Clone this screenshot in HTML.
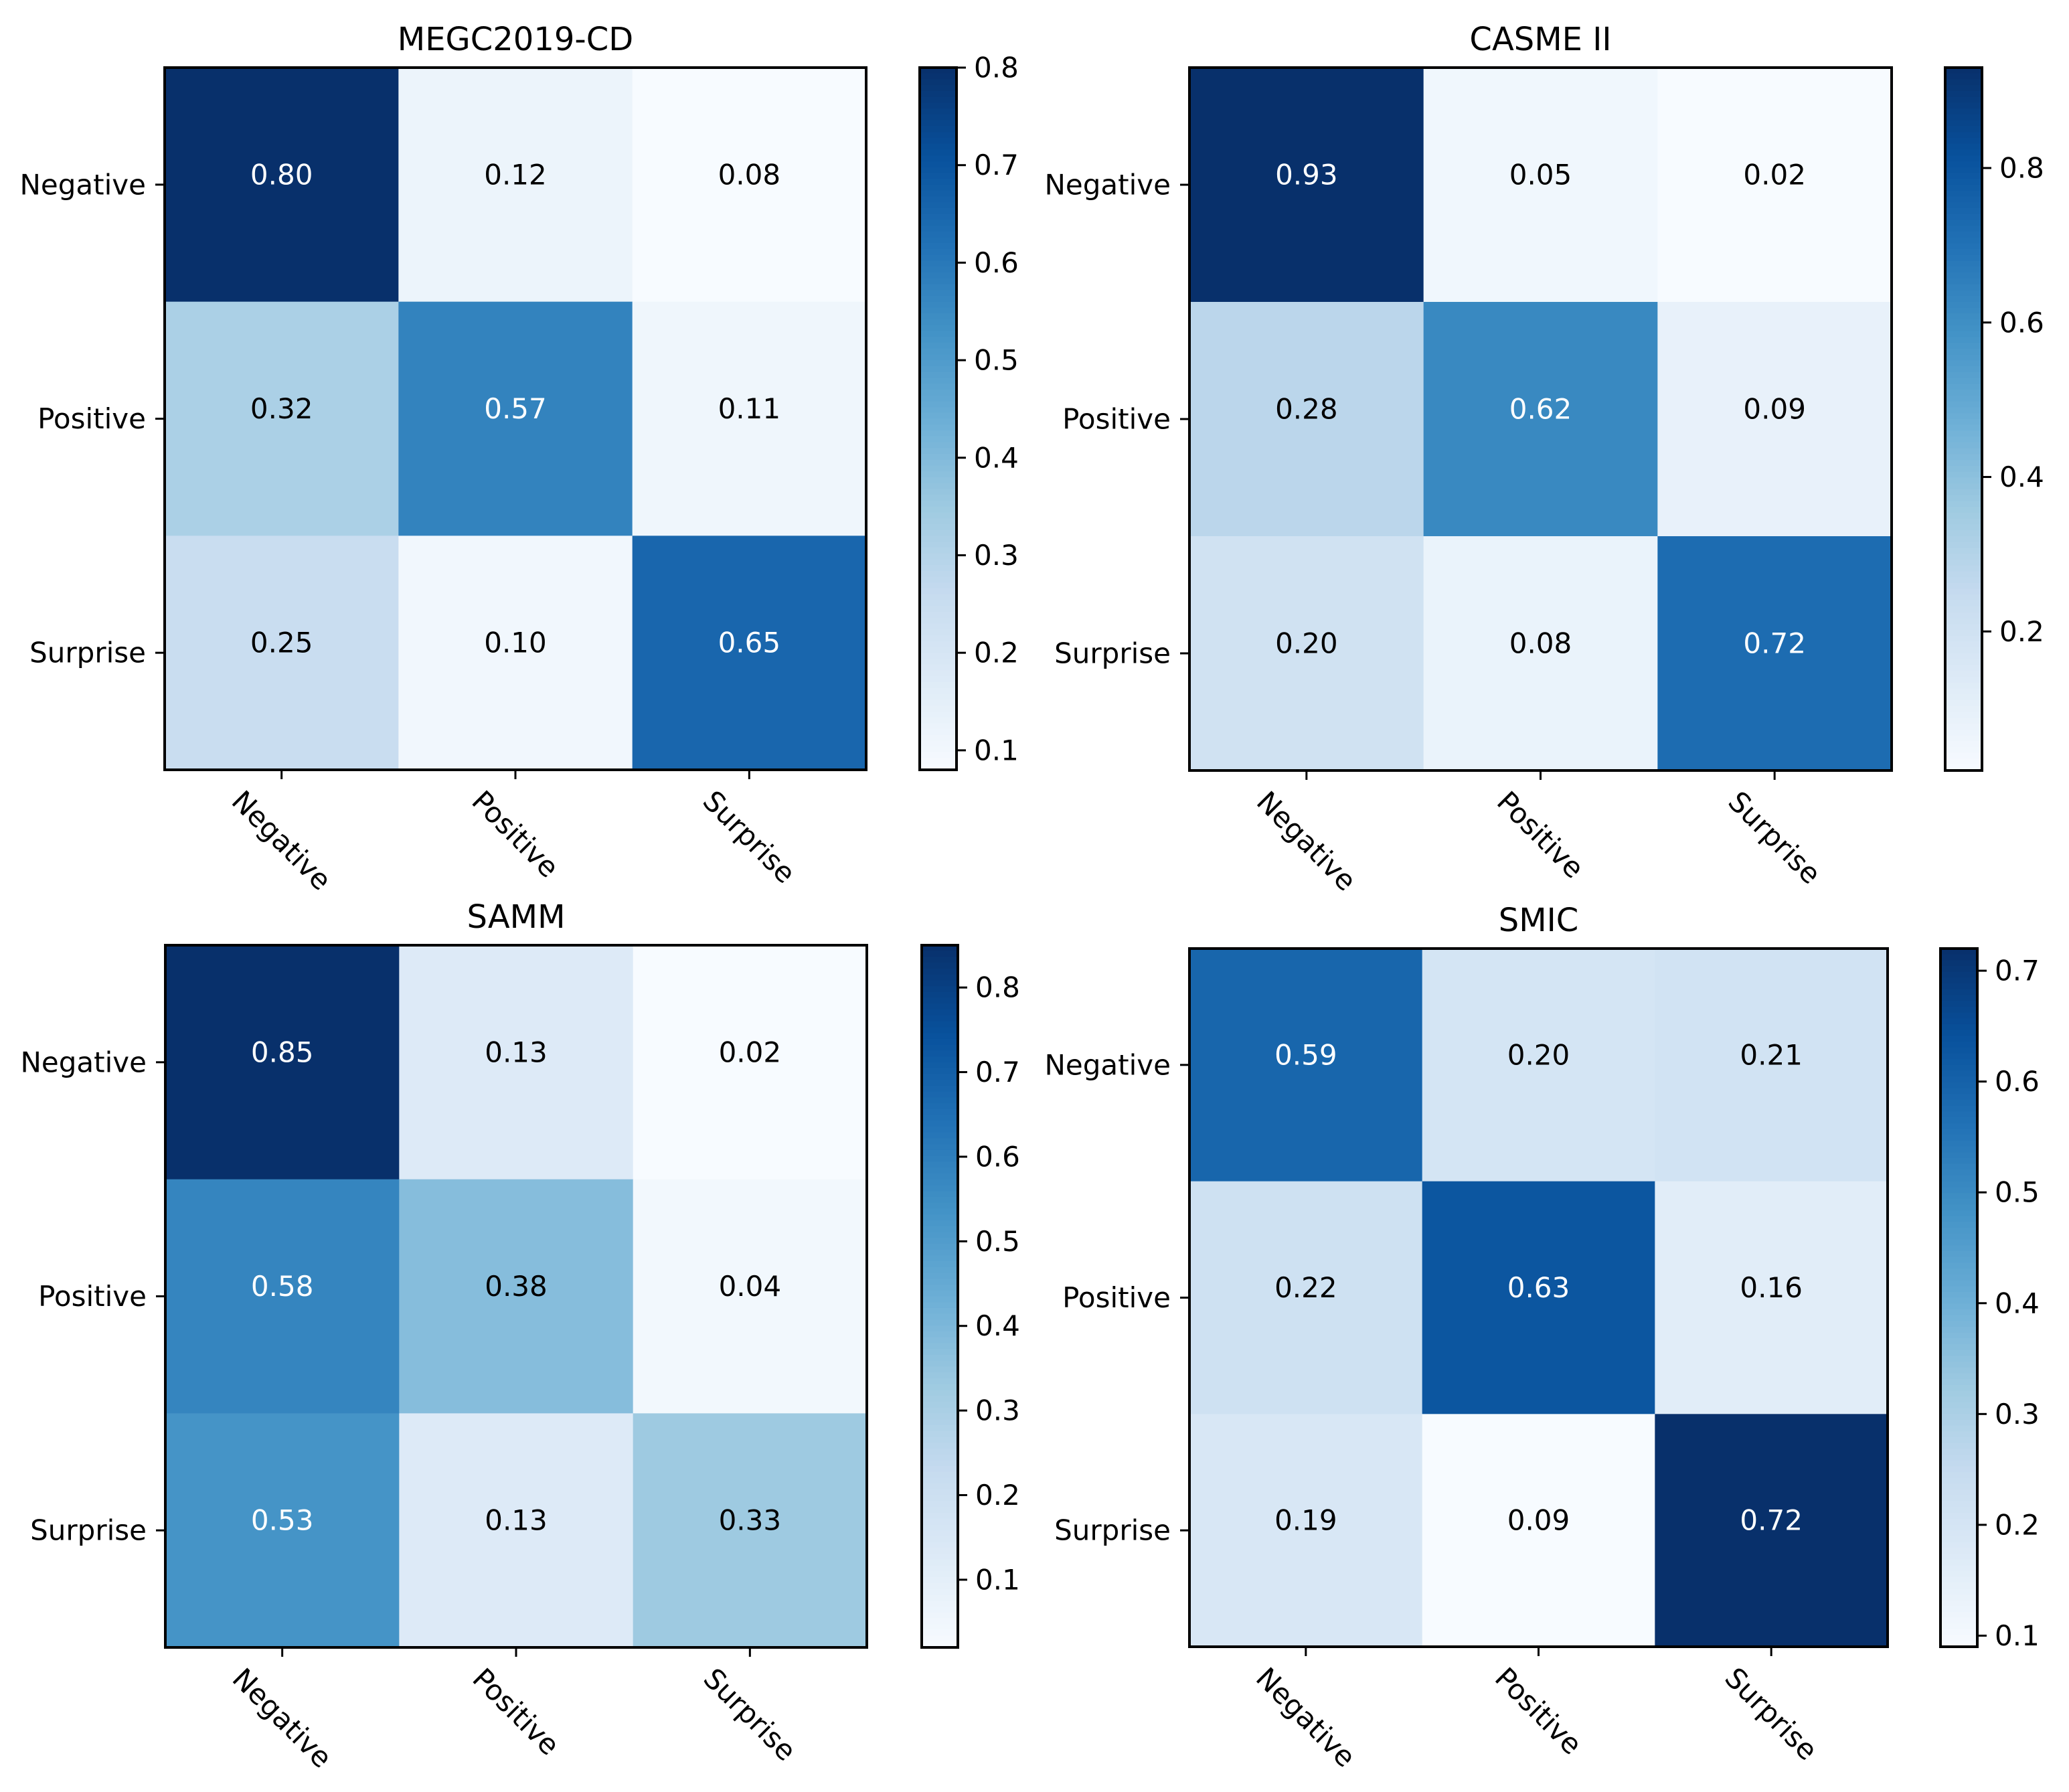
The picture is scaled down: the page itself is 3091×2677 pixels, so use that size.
<!DOCTYPE html>
<html><head><meta charset="utf-8"><style>
html,body{margin:0;padding:0;background:#fff;}
svg{display:block;font-family:"DejaVu Sans","Liberation Sans",sans-serif;}
</style></head><body>
<svg id="fig" width="3091" height="2677" viewBox="0 0 3091 2677" xmlns="http://www.w3.org/2000/svg"></svg>
<script>
const categories = ["Negative","Positive","Surprise"];
const titles = ["MEGC2019-CD","CASME II","SAMM","SMIC"];
const valuesMEGC = [[0.80,0.12,0.08],[0.32,0.57,0.11],[0.25,0.10,0.65]];
const valuesCASME = [[0.93,0.05,0.02],[0.28,0.62,0.09],[0.20,0.08,0.72]];
const valuesSAMM = [[0.85,0.13,0.02],[0.58,0.38,0.04],[0.53,0.13,0.33]];
const valuesSMIC = [[0.59,0.20,0.21],[0.22,0.63,0.16],[0.19,0.09,0.72]];
const ticksMEGC = [0.1,0.2,0.3,0.4,0.5,0.6,0.7,0.8];
const ticksCASME = [0.2,0.4,0.6,0.8];
const ticksSAMM = [0.1,0.2,0.3,0.4,0.5,0.6,0.7,0.8];
const ticksSMIC = [0.1,0.2,0.3,0.4,0.5,0.6,0.7];

const NS="http://www.w3.org/2000/svg";
const svg=document.getElementById('fig');
const stops=["#f7fbff","#deebf7","#c6dbef","#9ecae1","#6baed6","#4292c6","#2171b5","#08519c","#08306b"];
function hex(h){return [1,3,5].map(i=>parseInt(h.substr(i,2),16));}
function blues(t){t=Math.max(0,Math.min(1,t));const p=t*8;const i=Math.min(7,Math.floor(p));const f=p-i;
 const a=hex(stops[i]),b=hex(stops[i+1]);return "rgb("+a.map((v,k)=>Math.round(v+(b[k]-v)*f)).join(",")+")";}
function el(tag,attrs,parent){const e=document.createElementNS(NS,tag);for(const k in attrs)e.setAttribute(k,attrs[k]);(parent||svg).appendChild(e);return e;}

const panels=[
 {vals:valuesMEGC,ticks:ticksMEGC,title:titles[0],x:246,y:101,w:1048,h:1049,cx:1374,cw:55,key:"megc"},
 {vals:valuesCASME,ticks:ticksCASME,title:titles[1],x:1777,y:101,w:1049,h:1050,cx:2906,cw:55,key:"casme"},
 {vals:valuesSAMM,ticks:ticksSAMM,title:titles[2],x:247,y:1412,w:1048,h:1049,cx:1377,cw:54,key:"samm"},
 {vals:valuesSMIC,ticks:ticksSMIC,title:titles[3],x:1777,y:1417,w:1043,h:1043,cx:2899,cw:55,key:"smic"}
];
const FS=42;
panels.forEach(P=>{
 const g=el('g',{});
 
 
 const flat=P.vals.flat();const mn=Math.min(...flat),mx=Math.max(...flat);
 const norm=v=>(v-mn)/(mx-mn);
 const n=categories.length;const cw=P.w/n,ch=P.h/n;
 const xs=j=>P.x+cw*(j+0.5), ys=i=>P.y+ch*(i+0.5);
 const thresh=mx/2;
 P.vals.forEach((row,i)=>row.forEach((v,j)=>{
  const r=el('rect',{x:P.x+cw*j,y:P.y+ch*i,width:cw+0.5,height:ch+0.5,fill:blues(norm(v))},g);
  
  
  const t=el('text',{x:xs(j),y:ys(i)-15,'text-anchor':'middle','dominant-baseline':'central','font-size':FS,fill:v>thresh?'#fff':'#000'},g);
  t.textContent=v.toFixed(2);
  
  
 }));
 const fr=el('rect',{x:P.x,y:P.y,width:P.w,height:P.h,fill:'none',stroke:'#000','stroke-width':4},g);
 
 
 const tt=el('text',{x:P.x+P.w/2,y:P.y-26,'text-anchor':'middle','font-size':48,fill:'#000'},g);
 tt.textContent=P.title;
 
 
 categories.forEach((c,i)=>{
  el('line',{x1:P.x-14,x2:P.x,y1:ys(i),y2:ys(i),stroke:'#000','stroke-width':3},g);
  const yl=el('text',{x:P.x-28,y:ys(i),'text-anchor':'end','dominant-baseline':'central','font-size':FS,fill:'#000'},g);
  yl.textContent=c;
  
  
  el('line',{x1:xs(i),x2:xs(i),y1:P.y+P.h,y2:P.y+P.h+14,stroke:'#000','stroke-width':3},g);
  const xl=el('text',{'text-anchor':'middle','dominant-baseline':'central','font-size':FS,fill:'#000'},g);
  xl.textContent=c;
  
  
  const w=xl.getComputedTextLength();
  const cy=P.y+P.h+24+(w+FS)*0.3535;
  xl.setAttribute('x',xs(i));xl.setAttribute('y',cy);
  xl.setAttribute('transform','rotate(45 '+xs(i)+' '+cy+')');
 });
 const cb=el('g',{},g);
 
 
 const steps=120;
 for(let k=0;k<steps;k++){
  el('rect',{x:P.cx,y:P.y+P.h*k/steps,width:P.cw,height:P.h/steps+1,fill:blues(1-(k+0.5)/steps)},cb);
 }
 el('rect',{x:P.cx,y:P.y,width:P.cw,height:P.h,fill:'none',stroke:'#000','stroke-width':4},cb);
 const cyv=v=>P.y+P.h*(1-(v-mn)/(mx-mn));
 P.ticks.forEach(tv=>{
  el('line',{x1:P.cx+P.cw,x2:P.cx+P.cw+14,y1:cyv(tv),y2:cyv(tv),stroke:'#000','stroke-width':3},cb);
  const tl=el('text',{x:P.cx+P.cw+26,y:cyv(tv),'dominant-baseline':'central','font-size':FS,fill:'#000'},cb);
  tl.textContent=tv.toFixed(1);
  
  
 });
});
</script>
</body></html>
